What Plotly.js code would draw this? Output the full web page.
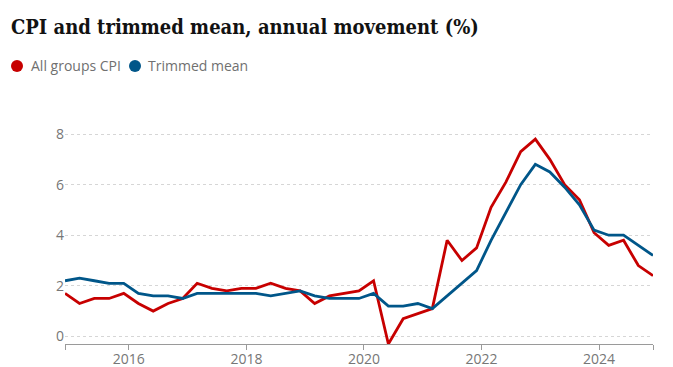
<!DOCTYPE html>
<html>
<head>
<meta charset="utf-8">
<script src="https://cdn.plot.ly/plotly-3.0.1.min.js"></script>
<style>
  html, body { margin: 0; padding: 0; background: #fff; }
  #chart { width: 673px; height: 367px; }
</style>
</head>
<body>
<div id="chart"></div>
<script>
// Quarter dates (Dec 2014 – Dec 2024)
const quarters = [
  '2014-12-01',
  '2015-03-01','2015-06-01','2015-09-01','2015-12-01',
  '2016-03-01','2016-06-01','2016-09-01','2016-12-01',
  '2017-03-01','2017-06-01','2017-09-01','2017-12-01',
  '2018-03-01','2018-06-01','2018-09-01','2018-12-01',
  '2019-03-01','2019-06-01','2019-09-01','2019-12-01',
  '2020-03-01','2020-06-01','2020-09-01','2020-12-01',
  '2021-03-01','2021-06-01','2021-09-01','2021-12-01',
  '2022-03-01','2022-06-01','2022-09-01','2022-12-01',
  '2023-03-01','2023-06-01','2023-09-01','2023-12-01',
  '2024-03-01','2024-06-01','2024-09-01','2024-12-01'
];

// All groups CPI, annual movement (%)
const cpi = [
  1.7,
  1.3, 1.5, 1.5, 1.7,
  1.3, 1.0, 1.3, 1.5,
  2.1, 1.9, 1.8, 1.9,
  1.9, 2.1, 1.9, 1.8,
  1.3, 1.6, 1.7, 1.8,
  2.2, -0.3, 0.7, 0.9,
  1.1, 3.8, 3.0, 3.5,
  5.1, 6.1, 7.3, 7.8,
  7.0, 6.0, 5.4, 4.1,
  3.6, 3.8, 2.8, 2.4
];

// Trimmed mean, annual movement (%)
const trimmed = [
  2.2,
  2.3, 2.2, 2.1, 2.1,
  1.7, 1.6, 1.6, 1.5,
  1.7, 1.7, 1.7, 1.7,
  1.7, 1.6, 1.7, 1.8,
  1.6, 1.5, 1.5, 1.5,
  1.7, 1.2, 1.2, 1.3,
  1.1, 1.6, 2.1, 2.6,
  3.8, 4.9, 6.0, 6.8,
  6.5, 5.9, 5.2, 4.2,
  4.0, 4.0, 3.6, 3.2
];

const seriesNames = ['All groups CPI', 'Trimmed mean'];
const seriesColors = ['#c70000', '#005689'];

const xTickVals = ['2014-12-01','2016-01-01','2018-01-01','2020-01-01','2022-01-01','2024-01-01','2024-12-01'];
const xTickText = ['', '2016', '2018', '2020', '2022', '2024', ''];
const yTickVals = [0, 2, 4, 6, 8];

const W = 673, H = 367;
const L = 65, R = 20, T = 132, B = 23;
const pw = W - L - R, ph = H - T - B;
const px = v => (v - L) / pw;
const py = v => (H - B - v) / ph;

const traces = [
  { x: quarters, y: cpi, name: seriesNames[0], type: 'scatter', mode: 'lines',
    line: { color: seriesColors[0], width: 2.8 }, hoverinfo: 'skip', cliponaxis: false },
  { x: quarters, y: trimmed, name: seriesNames[1], type: 'scatter', mode: 'lines',
    line: { color: seriesColors[1], width: 2.8 }, hoverinfo: 'skip', cliponaxis: false }
];

const legendFont = { family: '"Open Sans", sans-serif', size: 14, color: '#707070' };

const layout = {
  width: W, height: H,
  margin: { l: L, r: R, t: T, b: B, pad: 0 },
  paper_bgcolor: '#ffffff',
  plot_bgcolor: '#ffffff',
  showlegend: false,
  title: {
    text: 'CPI and trimmed mean, annual movement (%)',
    font: { family: '"DejaVu Serif Condensed", "DejaVu Serif", serif', size: 20, color: '#121212', weight: 'bold' },
    xref: 'container', yref: 'container',
    x: 11 / W, xanchor: 'left',
    y: 1 - 27 / H, yanchor: 'middle'
  },
  xaxis: {
    type: 'date',
    range: [quarters[0], quarters[quarters.length - 1]],
    tickmode: 'array', tickvals: xTickVals, ticktext: xTickText,
    showgrid: false, zeroline: false,
    showline: true, linecolor: '#9a9a9a', linewidth: 1,
    ticks: 'outside', ticklen: 2, tickcolor: '#9a9a9a', tickwidth: 1,
    minor: { tickmode: 'array', tickvals: xTickVals, ticks: 'outside', ticklen: 5,
             tickcolor: '#9a9a9a', tickwidth: 1, showgrid: false },
    tickfont: { family: '"Open Sans", sans-serif', size: 14, color: '#767676' },
    fixedrange: true
  },
  yaxis: {
    range: [-0.3, 8.08],
    tickmode: 'array', tickvals: yTickVals,
    showgrid: true, gridcolor: '#d6d6d6', griddash: 'dot', gridwidth: 1,
    zeroline: false, showline: false, ticks: '',
    tickfont: { family: '"Open Sans", sans-serif', size: 14, color: '#767676' },
    fixedrange: true
  },
  shapes: [
    { type: 'circle', xref: 'paper', yref: 'paper',
      x0: px(11), x1: px(23), y0: py(72), y1: py(60),
      fillcolor: seriesColors[0], line: { width: 0 } },
    { type: 'circle', xref: 'paper', yref: 'paper',
      x0: px(129), x1: px(141), y0: py(72), y1: py(60),
      fillcolor: seriesColors[1], line: { width: 0 } }
  ],
  annotations: [
    { text: seriesNames[0], xref: 'paper', yref: 'paper', x: px(29), y: py(66),
      xanchor: 'left', yanchor: 'middle', showarrow: false, font: legendFont },
    { text: seriesNames[1], xref: 'paper', yref: 'paper', x: px(146), y: py(66),
      xanchor: 'left', yanchor: 'middle', showarrow: false, font: legendFont }
  ]
};

Plotly.newPlot('chart', traces, layout, { displayModeBar: false, staticPlot: true });
</script>
</body>
</html>
